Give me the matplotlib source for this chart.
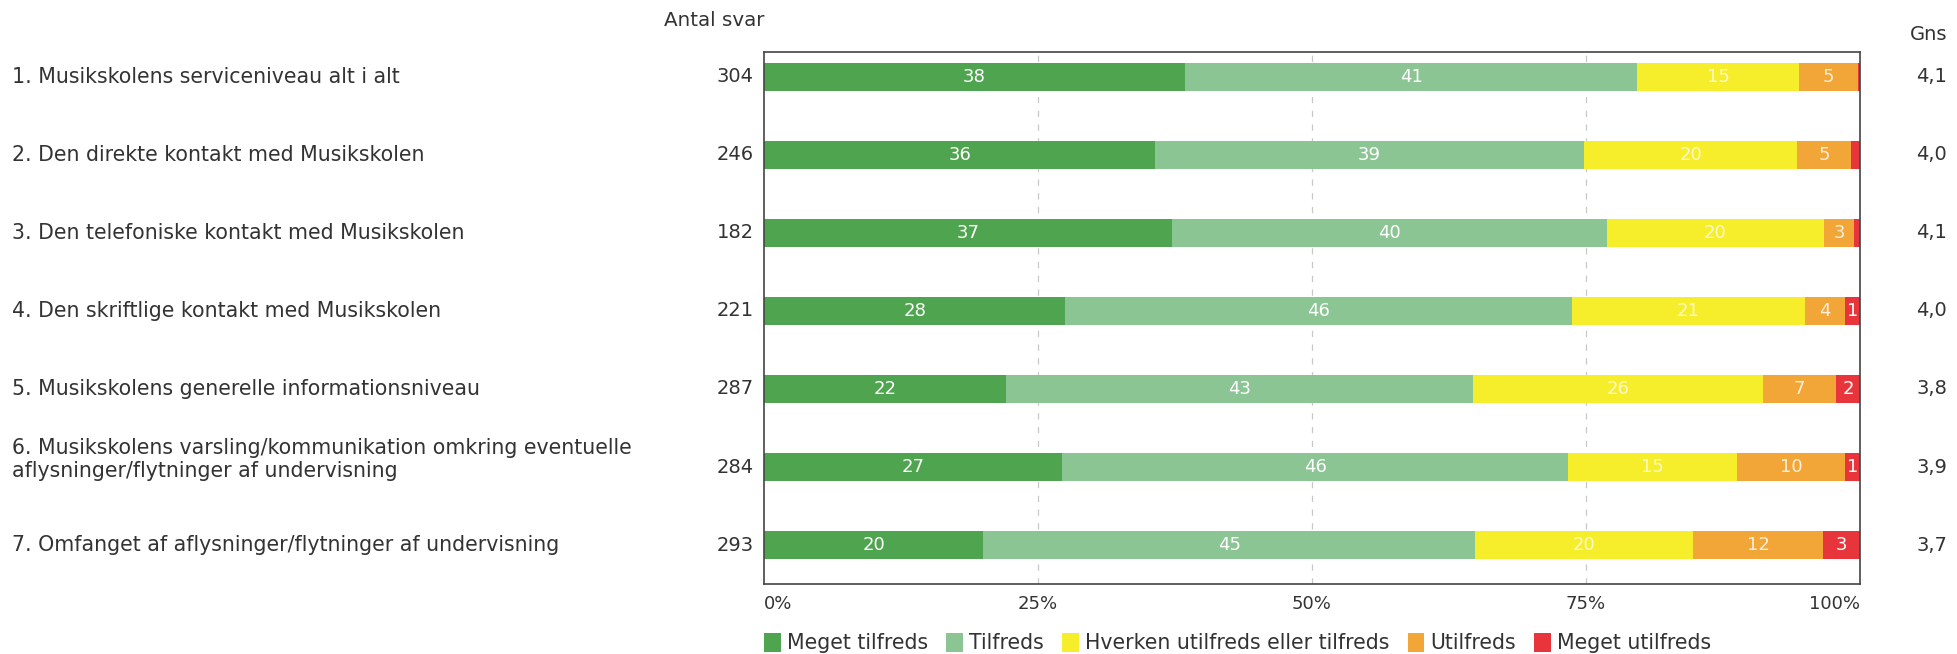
import numpy as np
import matplotlib.pyplot as plt

questions = [
    "1. Musikskolens serviceniveau alt i alt",
    "2. Den direkte kontakt med Musikskolen",
    "3. Den telefoniske kontakt med Musikskolen",
    "4. Den skriftlige kontakt med Musikskolen",
    "5. Musikskolens generelle informationsniveau",
    "6. Musikskolens varsling/kommunikation omkring eventuelle\naflysninger/flytninger af undervisning",
    "7. Omfanget af aflysninger/flytninger af undervisning",
]
antal_svar = [304, 246, 182, 221, 287, 284, 293]
gns = ["4,1", "4,0", "4,1", "4,0", "3,8", "3,9", "3,7"]

categories = ["Meget tilfreds", "Tilfreds", "Hverken utilfreds eller tilfreds",
              "Utilfreds", "Meget utilfreds"]
meget_tilfreds = [38.4, 35.7, 37.2, 27.5, 22.1, 27.2, 20.0]
tilfreds = [41.3, 39.1, 39.7, 46.2, 42.6, 46.2, 44.9]
hverken = [14.7, 19.5, 19.8, 21.3, 26.5, 15.4, 19.9]
utilfreds = [5.4, 4.9, 2.8, 3.6, 6.6, 9.8, 11.8]
meget_utilfreds = [0.2, 0.8, 0.5, 1.4, 2.2, 1.4, 3.4]

colors = ["#4fa54f", "#8cc594", "#f7ee2b", "#f2a638", "#e8353c"]
text_colors = ["white", "white", "#fdf8c8", "#fdf0dc", "white"]

series = [meget_tilfreds, tilfreds, hverken, utilfreds, meget_utilfreds]

fig = plt.figure(figsize=(19.57, 6.54), dpi=100)
ax = fig.add_axes([0.3904, 0.107, 0.5600, 0.8135])

y = np.arange(len(questions))
left = np.zeros(len(questions))
for vals, col, tcol, name in zip(series, colors, text_colors, categories):
    vals = np.array(vals)
    ax.barh(y, vals, left=left, height=0.37, color=col, label=name)
    for yi, l, v in zip(y, left, vals):
        if v >= 1:
            ax.text(l + v / 2, yi, str(int(round(v))), ha="center", va="center",
                    color=tcol, fontsize=13)
    left += vals

ax.set_xlim(0, 100)
ax.set_ylim(6.5, -0.32)
ax.set_xticks([0, 25, 50, 75, 100])
ax.set_xticklabels(["0%", "25%", "50%", "75%", "100%"], fontsize=13, color="#333333")
ax.set_yticks([])
ax.tick_params(axis="x", length=0, pad=8)
for lab, ha in zip(ax.get_xticklabels(), ["left", "center", "center", "center", "right"]):
    lab.set_ha(ha)
for x in [25, 50, 75]:
    ax.axvline(x, color="#c8c8c8", lw=0.9, ls=(0, (5, 6)), zorder=0)
for s in ax.spines.values():
    s.set_color("#444444")
    s.set_linewidth(1.2)

# texts left and right of the bars
for yi, q, n, g in zip(y, questions, antal_svar, gns):
    ax.text(-0.0095, yi, str(n), transform=ax.get_yaxis_transform(),
            ha="right", va="center", fontsize=14, color="#333333")
    qy = yi - 0.1 if "\n" in q else yi
    ax.annotate(q, xy=(12 / 1957, qy), xycoords=("figure fraction", "data"),
                ha="left", va="center", fontsize=14.8, color="#333333",
                linespacing=1.18)
    ax.annotate(g, xy=(0.995, yi), xycoords=("figure fraction", "data"),
                ha="right", va="center", fontsize=14, color="#333333")

fig.text(764 / 1957, 1 - 20 / 654, "Antal svar", ha="right", va="center",
         fontsize=14.3, color="#333333")
fig.text(0.995, 1 - 34 / 654, "Gns", ha="right", va="center",
         fontsize=14, color="#333333")

fig.legend(loc="center left", bbox_to_anchor=(0.381, 1 - 643 / 654),
           ncol=5, frameon=False, fontsize=14.8, handlelength=0.8,
           handleheight=1.1, handletextpad=0.3, columnspacing=0.9,
           labelcolor="#333333")

fig.savefig("out.png", dpi=100)
